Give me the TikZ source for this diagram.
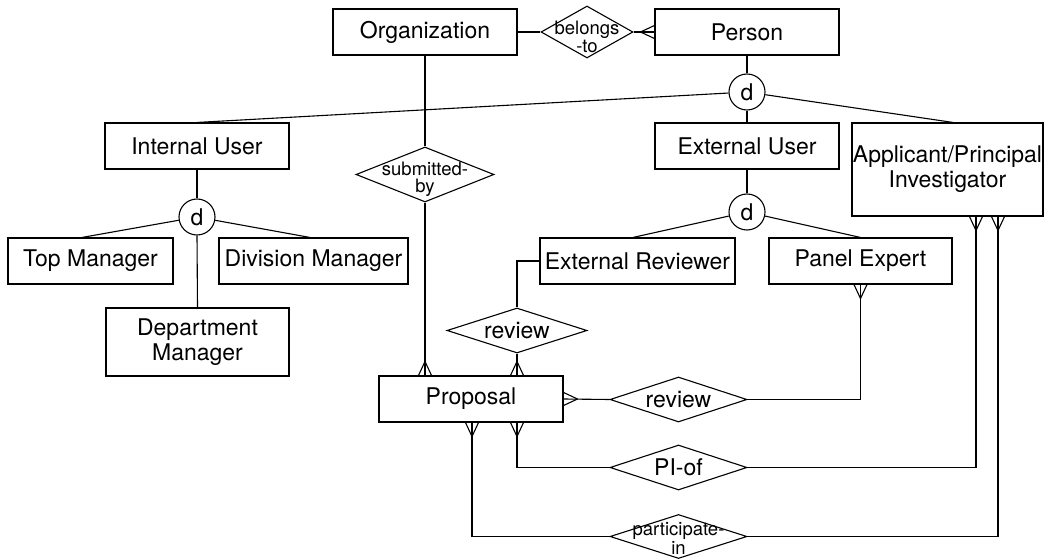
\documentclass[tikz,border=0pt]{standalone}
\usepackage{fontspec}
\setmainfont{TeX Gyre Heros}
\usetikzlibrary{shapes.geometric,calc}
\begin{document}
\begin{tikzpicture}[x=1bp,y=-1bp,line width=1.1bp,
  ent/.style={draw,rectangle,inner sep=0,font=\fontsize{23bp}{25bp}\selectfont,align=center},
  rel/.style={draw,diamond,inner sep=0},
  dsk/.style={draw,circle,minimum size=36bp,inner sep=0,font=\fontsize{23bp}{25bp}\selectfont},
  bigtxt/.style={font=\fontsize{23bp}{25bp}\selectfont,align=center,inner sep=0},
  smalltxt/.style={font=\fontsize{18.5bp}{17bp}\selectfont,align=center,inner sep=0},
  crow/.pic={\draw (-14,0) -- (0,6.5) (-14,0) -- (0,-6.5);}
]
\useasboundingbox (0,0) rectangle (1044,559);

% entities
\node[ent,minimum width=184bp,minimum height=46bp] (org) at (425,32) {Organization};
\node[ent,minimum width=184bp,minimum height=46bp] (per) at (747,32) {Person};
\node[rel,minimum width=92bp,minimum height=52bp,label={[smalltxt,font=\fontsize{18.5bp}{14.5bp}\selectfont,yshift=-5bp]center:belongs\\-to}] (bel) at (587,32) {};
\node[dsk] (d1) at (747,92) {d};
\node[ent,minimum width=184bp,minimum height=46bp] (iu) at (197,146) {Internal User};
\node[ent,minimum width=184bp,minimum height=46bp] (eu) at (747,146) {External User};
\node[ent,minimum width=191bp,minimum height=93bp] (app) at (947.5,169.5) {Applicant/Principal\\Investigator};
\node[rel,minimum width=138bp,minimum height=55bp,label={[smalltxt,yshift=-5bp]center:submitted-\\by}] (sub) at (425,174.5) {};
\node[dsk] (d2) at (197,217) {d};
\node[ent,minimum width=165bp,minimum height=46bp] (tm) at (90.5,261) {Top Manager};
\node[ent,minimum width=189bp,minimum height=46bp] (dv) at (313.5,261) {Division Manager};
\node[ent,minimum width=183bp,minimum height=68bp] (dm) at (197.5,342) {Department\\Manager};
\node[dsk] (d3) at (747,212) {d};
\node[ent,minimum width=195bp,minimum height=46bp] (er) at (637.5,261) {External Reviewer};
\node[ent,minimum width=183bp,minimum height=46bp] (pe) at (860.5,261) {Panel Expert};
\node[rel,minimum width=140bp,minimum height=45bp,label={[bigtxt]center:review}] (rv1) at (517,330.5) {};
\node[ent,minimum width=184bp,minimum height=46bp] (prop) at (471,399) {Proposal};
\node[rel,minimum width=137bp,minimum height=45bp,label={[bigtxt]center:review}] (rv2) at (678.5,399.5) {};
\node[rel,minimum width=137bp,minimum height=45bp,label={[bigtxt]center:PI-of}] (pi) at (678.5,467.5) {};
\node[rel,minimum width=137bp,minimum height=44bp,label={[smalltxt,font=\fontsize{18.5bp}{15.5bp}\selectfont,yshift=-2bp]center:participate-\\in}] (pa) at (678.5,536.5) {};

% connectors
\draw (org.east) -- (bel.west);
\draw (bel.east) -- (per.west);
\path (per.west) pic {crow};
\draw (org.south) -- (sub.north);
\coordinate (pt1) at (sub.south |- prop.north);
\draw (sub.south) -- (pt1);
\path (pt1) pic[rotate=-90] {crow};

\draw (per.south) -- (d1.north);
\draw (d1) -- (iu.north);
\draw (d1.south) -- (eu.north);
\draw (d1) -- ([xshift=5.5bp]app.north);

\draw (iu.south) -- (d2.north);
\draw (d2) -- ([xshift=-8.5bp]tm.north);
\draw (d2) -- ([xshift=-3.5bp]dv.north);
\draw (d2.south) -- (dm.north);

\draw (eu.south) -- (d3.north);
\draw (d3) -- ([xshift=-4.5bp]er.north);
\draw (d3) -- (pe.north);

\draw (er.west) -| (rv1.north);
\coordinate (pt2) at (rv1.south |- prop.north);
\draw (rv1.south) -- (pt2);
\path (pt2) pic[rotate=-90] {crow};

\draw (prop.east) -- (rv2.west);
\path (prop.east) pic[rotate=180] {crow};
\draw (rv2.east) -| (pe.south);
\path (pe.south) pic[rotate=90] {crow};

\coordinate (pb1) at (prop.south -| rv1.south);
\coordinate (ab1) at ([xshift=28.5bp]app.south);
\draw (pb1) |- (pi.west);
\draw (pi.east) -| (ab1);
\path (pb1) pic[rotate=90] {crow};
\path (ab1) pic[rotate=90] {crow};

\coordinate (pb2) at ([xshift=1bp]prop.south);
\coordinate (ab2) at ([xshift=50.5bp]app.south);
\draw (pb2) |- (pa.west);
\draw (pa.east) -| (ab2);
\path (pb2) pic[rotate=90] {crow};
\path (ab2) pic[rotate=90] {crow};
\end{tikzpicture}
\end{document}
